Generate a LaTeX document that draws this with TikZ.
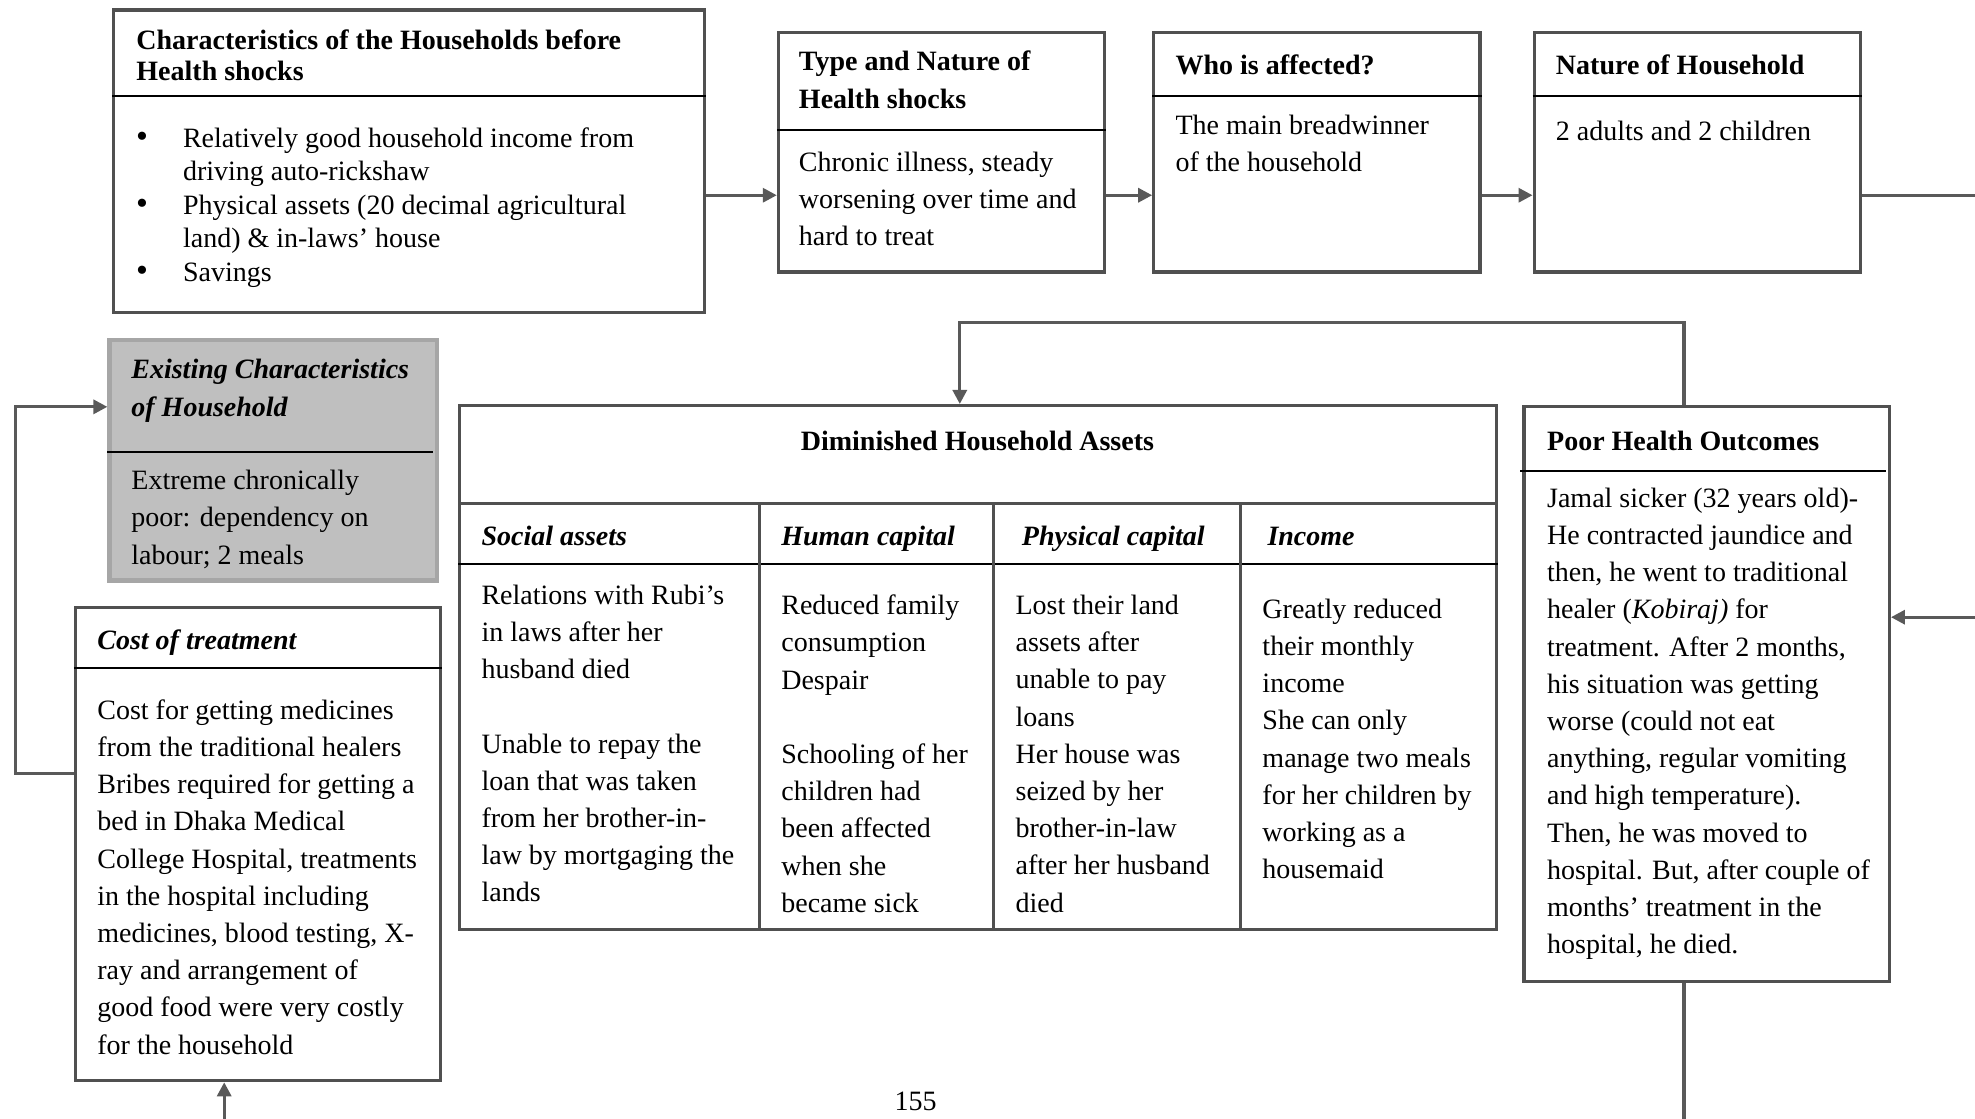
\documentclass[tikz,border=0pt]{standalone}
\usepackage{fontspec}
\setmainfont{Liberation Serif}
\usetikzlibrary{arrows.meta,fit}
\definecolor{edge}{HTML}{505050}
\definecolor{arrowgray}{HTML}{595959}
\definecolor{shade}{HTML}{BFBFBF}
\definecolor{shadeedge}{HTML}{A6A6A6}
\tikzset{
  box/.style={draw=edge, line width=1.6pt, inner sep=0pt, fill=white},
  greybox/.style={draw=shadeedge, line width=2.2pt, inner sep=0pt, fill=shade},
  divider/.style={draw=black, line width=1pt},
  cell/.style={draw=edge, line width=1.6pt},
  link/.style={draw=arrowgray, line width=1.6pt},
  arr/.style={link, -{Triangle[length=7pt,width=7pt]}},
  txt/.style={anchor=north west, inner sep=0pt, align=left, yshift=5pt,
    execute at begin node={\rule{0pt}{12pt}},
    font=\fontsize{14pt}{18.5pt}\selectfont},
  ctxt/.style={txt, anchor=north},
  sp25/.style={font=\fontsize{14pt}{15.75pt}\selectfont},
  sp26/.style={font=\fontsize{14pt}{16.7pt}\selectfont},
  sp29/.style={font=\fontsize{14pt}{18.6pt}\selectfont},
  sp30/.style={font=\fontsize{14pt}{18.9pt}\selectfont},
  folio/.style={anchor=base, inner sep=0pt, font=\fontsize{14pt}{16pt}\selectfont},
}
\newcommand{\bul}{\llap{{\fontsize{17pt}{17pt}\selectfont\textbullet}\hspace{17.5pt}}}
\begin{document}
\begin{tikzpicture}[x=0.6298pt, y=-0.6298pt]
\useasboundingbox (0,0) rectangle (1568,888);

% ---------- top row ----------
\node[box, fit={(90,8) (559,248)}] (b1) {};
\draw[divider] (b1.west |- 0,76) -- (b1.east |- 0,76);
\node[txt, sp25] (b1t) at (108,31) {\bfseries Characteristics of the Households before\\\bfseries Health shocks};
\node[txt, sp26] (b1b) at (145,109) {\bul Relatively good household income from\\driving auto-rickshaw\\\bul Physical assets (20 decimal agricultural\\land) \& in-laws’ house\\\bul Savings};

\node[box, fit={(618,26) (877,216)}] (b2) {};
\draw[divider] (b2.west |- 0,103) -- (b2.east |- 0,103);
\node[txt, sp30] (b2t) at (634,48) {\bfseries Type and Nature of\\\bfseries Health shocks};
\node[txt, sp29] (b2b) at (634,128) {Chronic illness, steady\\worsening over time and\\hard to treat};

\node[box, fit={(916,26) (1175,216)}] (b3) {};
\draw[divider] (b3.west |- 0,76) -- (b3.east |- 0,76);
\node[txt] (b3t) at (933,48) {\bfseries Who is affected?};
\node[txt, sp29] (b3b) at (933,99) {The main breadwinner\\of the household};

\node[box, fit={(1218,26) (1477,216)}] (b4) {};
\draw[divider] (b4.west |- 0,76) -- (b4.east |- 0,76);
\node[txt] (b4t) at (1235,48) {\bfseries Nature of Household};
\node[txt] (b4b) at (1235,100) {2 adults and 2 children};

\coordinate (rowY) at (0,155);
\coordinate (exitR) at (1568,155);
\draw[arr] (b1.east |- rowY) -- (b2.west |- rowY);
\draw[arr] (b2.east |- rowY) -- (b3.west |- rowY);
\draw[arr] (b3.east |- rowY) -- (b4.west |- rowY);
\draw[link] (b4.east |- exitR) -- (exitR);

% ---------- left column ----------
\node[greybox, fit={(87,270) (347,461)}] (ex) {};
\draw[divider] (85,359) -- (344,359);
\node[txt, sp29] (ext) at (104,293) {\bfseries\itshape Existing Characteristics\\\bfseries\itshape of Household};
\node[txt, sp29] (exb) at (104,381) {Extreme chronically\\poor: dependency on\\labour; 2 meals};

\node[box, fit={(60,482) (350,858)}] (cost) {};
\draw[divider] (cost.west |- 0,530) -- (cost.east |- 0,530);
\node[txt] (costt) at (77,504) {\bfseries\itshape Cost of treatment};
\node[txt, sp29] (costb) at (77,563) {Cost for getting medicines\\from the traditional healers\\Bribes required for getting a\\bed in Dhaka Medical\\College Hospital, treatments\\in the hospital including\\medicines, blood testing, X-\\ray and arrangement of\\good food were very costly\\for the household};

\coordinate (loopA) at (12,614);
\coordinate (loopB) at (12,323);
\draw[arr] (cost.west |- loopA) -- (loopA) -- (loopB) -- (ex.west |- loopB);
\coordinate (entB) at (178,888);
\draw[arr] (entB) -- (cost.south -| entB);

% ---------- diminished assets table ----------
\node[box, fit={(365,322) (1188,738)}] (dim) {};
\draw[cell] (dim.west |- 0,400) -- (dim.east |- 0,400);
\draw[divider] (dim.west |- 0,448) -- (dim.east |- 0,448);
\draw[cell] (603,400) -- (603,0 |- dim.south);
\draw[cell] (789,400) -- (789,0 |- dim.south);
\draw[cell] (985,400) -- (985,0 |- dim.south);
\node[ctxt] (dimt) at (776,346) {\bfseries Diminished Household Assets};
\node[txt] (h1) at (382,422) {\bfseries\itshape Social assets};
\node[txt] (h2) at (620,422) {\bfseries\itshape Human capital};
\node[txt] (h3) at (811,422) {\bfseries\itshape Physical capital};
\node[txt] (h4) at (1006,422) {\bfseries\itshape Income};
\node[txt, sp29] (c1) at (382,472) {Relations with Rubi’s\\in laws after her\\husband died\\\mbox{}\\Unable to repay the\\loan that was taken\\from her brother-in-\\law by mortgaging the\\lands};
\node[txt, sp29] (c2) at (620,480) {Reduced family\\consumption\\Despair\\\mbox{}\\Schooling of her\\children had\\been affected\\when she\\became sick};
\node[txt, sp29] (c3) at (806,480) {Lost their land\\assets after\\unable to pay\\loans\\Her house was\\seized by her\\brother-in-law\\after her husband\\died};
\node[txt, sp29] (c4) at (1002,483) {Greatly reduced\\their monthly\\income\\She can only\\manage two meals\\for her children by\\working as a\\housemaid};

% ---------- poor health outcomes ----------
\node[box, fit={(1210,323) (1500,779)}] (ph) {};
\draw[divider] (1207,374) -- (1497,374);
\node[txt] (pht) at (1228,346) {\bfseries Poor Health Outcomes};
\node[txt, sp29] (phb) at (1228,395) {Jamal sicker (32 years old)-\\He contracted jaundice and\\then, he went to traditional\\healer (\textit{Kobiraj)} for\\treatment. After 2 months,\\his situation was getting\\worse (could not eat\\anything, regular vomiting\\and high temperature).\\Then, he was moved to\\hospital. But, after couple of\\months’ treatment in the\\hospital, he died.};

\coordinate (bendA) at (1337,256);
\coordinate (bendB) at (762,256);
\draw[arr] (ph.north -| bendA) -- (bendA) -- (bendB) -- (dim.north -| bendB);
\coordinate (entR) at (1568,490);
\draw[arr] (entR) -- (ph.east |- entR);
\coordinate (exitB) at (1337,888);
\draw[link] (ph.south -| exitB) -- (exitB);

% ---------- page number ----------
\node[folio] (pg) at (727,882) {155};
\end{tikzpicture}
\end{document}
